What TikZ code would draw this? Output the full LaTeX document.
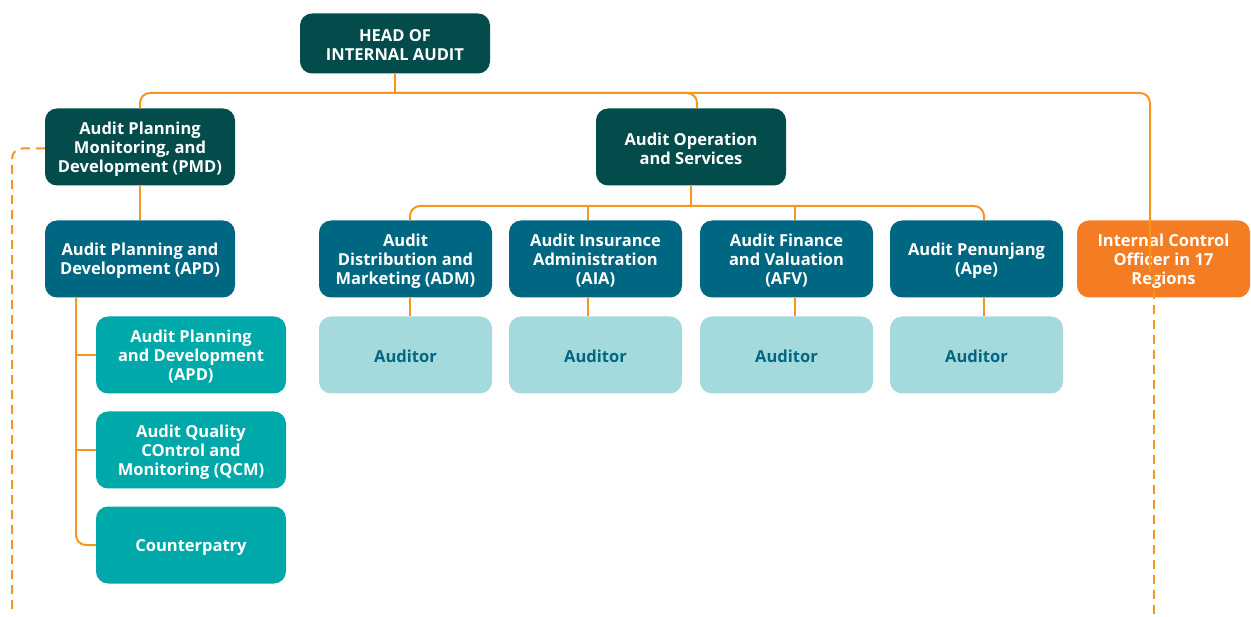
\documentclass[tikz,border=0pt]{standalone}
\usepackage{fontspec}
\setmainfont{Open Sans}
\definecolor{dteal}{HTML}{034C4B}
\definecolor{mblue}{HTML}{006782}
\definecolor{tealc}{HTML}{00A9A9}
\definecolor{lteal}{HTML}{A4DADB}
\definecolor{onode}{HTML}{F47C22}
\definecolor{oline}{HTML}{F7951F}
\newcommand{\liftline}{\rule{0pt}{16pt}}
\begin{document}
\begin{tikzpicture}[x=1pt,y=-1pt,
  box/.style={rounded corners=12pt, text=white, font=\bfseries\fontsize{16.5}{19}\selectfont, align=center, inner sep=0pt, minimum height=77pt},
  wide/.style={box, minimum width=190pt},
  narrow/.style={box, minimum width=173pt},
  conn/.style={draw=oline, line width=2pt, rounded corners=10pt},
  dconn/.style={conn, dash pattern=on 9pt off 6pt}]
\useasboundingbox (0,0) rectangle (1251,617);
% nodes
\node[wide, fill=dteal, minimum height=60pt] (head) at (395,43.5) {\liftline HEAD OF\\INTERNAL AUDIT};
\node[wide, fill=dteal] (pmd) at (140,147) {\liftline Audit Planning\\Monitoring, and\\Development (PMD)};
\node[wide, fill=dteal] (aos) at (691,147) {\liftline Audit Operation\\and Services};
\node[wide, fill=mblue] (apd) at (140,259) {\liftline Audit Planning and\\Development (APD)};
\node[wide, fill=tealc] (apdb) at (191,355) {\liftline Audit Planning\\and Development\\(APD)};
\node[wide, fill=tealc] (qcm) at (191,450) {\liftline Audit Quality\\COntrol and\\Monitoring (QCM)};
\node[wide, fill=tealc] (cp) at (191,545) {\liftline Counterpatry};
\node[narrow, fill=mblue] (adm) at (405.5,259) {\liftline Audit\\Distribution and\\Marketing (ADM)};
\node[narrow, fill=mblue] (aia) at (595.5,259) {\liftline Audit Insurance\\Administration\\(AIA)};
\node[narrow, fill=mblue] (afv) at (786.5,259) {\liftline Audit Finance\\and Valuation\\(AFV)};
\node[narrow, fill=mblue] (ape) at (976.5,259) {\liftline Audit Penunjang\\(Ape)};
\node[narrow, fill=onode] (ico) at (1163.5,259) {\liftline Internal Control\\Officer in 17\\Regions};
\node[narrow, fill=lteal, text=mblue] (au1) at (405.5,355) {\liftline Auditor};
\node[narrow, fill=lteal, text=mblue] (au2) at (595.5,355) {\liftline Auditor};
\node[narrow, fill=lteal, text=mblue] (au3) at (786.5,355) {\liftline Auditor};
\node[narrow, fill=lteal, text=mblue] (au4) at (976.5,355) {\liftline Auditor};
% coordinates
\coordinate (hj) at (395,93);
\coordinate (aj) at (691,206);
\coordinate (spine) at (76,297);
\coordinate (icoend) at (1150,272);
\coordinate (icodash) at (1154,275);
\coordinate (rbot) at (1154,615);
\coordinate (lbot) at (12,615);
% connectors
\draw[conn] (head.south) -- (hj);
\draw[conn] (pmd.north) |- (hj) -| ([xshift=6pt]aos.north);
\draw[conn] (hj) -| (icoend);
\draw[dconn] (icodash) -- (rbot);
\draw[dconn] ([yshift=-1.5pt]pmd.west) -| (lbot);
\draw[conn] (pmd) -- (apd);
\draw[conn] (spine) |- (cp.west);
\draw[conn] (spine |- apdb.west) -- (apdb.west);
\draw[conn] (spine |- qcm.west) -- (qcm.west);
\draw[conn] (aos.south) -- (aj);
\draw[conn] ([xshift=4.5pt]adm.north) |- (aj) -| ([xshift=7.5pt]ape.north);
\draw[conn] ([xshift=-7.5pt]aia.north) -- ([xshift=-7.5pt]aia.north |- aj);
\draw[conn] ([xshift=8.5pt]afv.north) -- ([xshift=8.5pt]afv.north |- aj);
\draw[conn] ([xshift=4.5pt]adm.south) -- ([xshift=4.5pt]au1.north);
\draw[conn] ([xshift=-7.5pt]aia.south) -- ([xshift=-7.5pt]au2.north);
\draw[conn] ([xshift=8.5pt]afv.south) -- ([xshift=8.5pt]au3.north);
\draw[conn] ([xshift=7.5pt]ape.south) -- ([xshift=7.5pt]au4.north);
\end{tikzpicture}
\end{document}
